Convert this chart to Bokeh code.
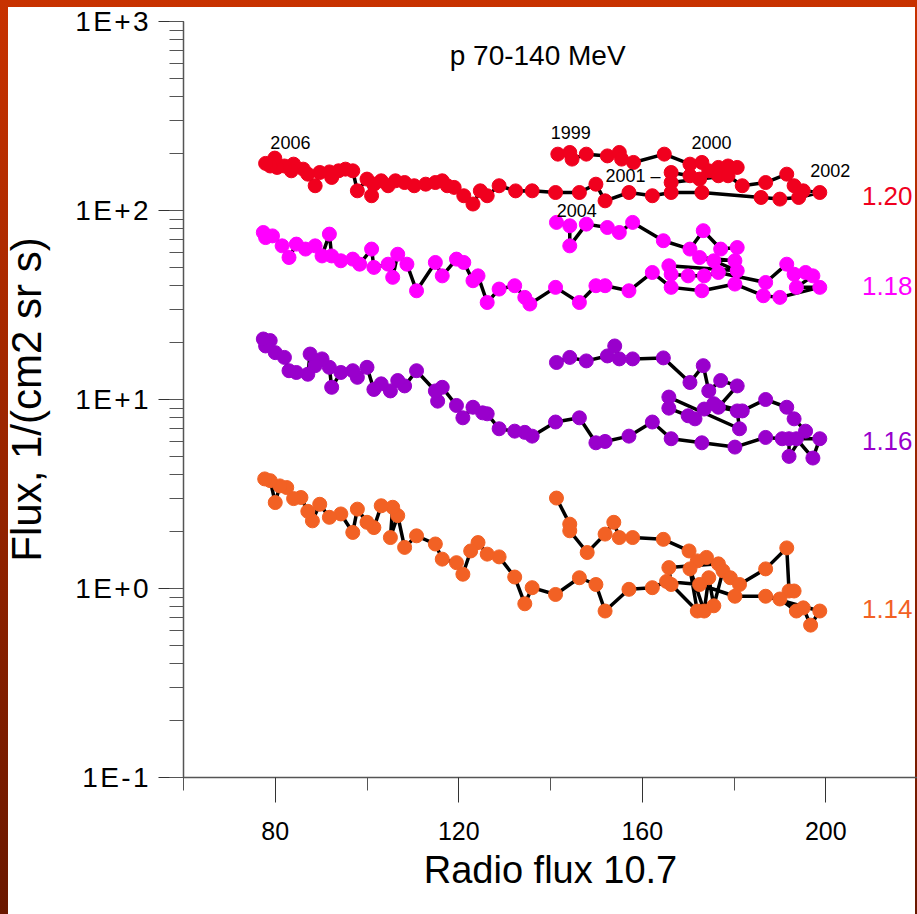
from bokeh.plotting import figure
from bokeh.models import Range1d, FixedTicker, LogTicker, CustomJSTickFormatter, Label
from bokeh.embed import file_html
from bokeh.resources import INLINE

# Radio flux F10.7 (x) and proton flux (y) for each spectral index, in time order
# 1999 -> 2000 -> 2001 -> 2002 -> ... -> 2006
x_120 = [141.6, 144.2, 144.7, 147.8, 152.4, 155.0, 155.5, 158.1, 164.8, 170.4, 173.0, 174.5, 176.6,
         178.7, 180.7, 176.6, 170.4, 166.3, 166.3, 172.5, 178.7, 181.8, 186.9, 191.5, 193.1, 195.1,
         198.7, 194.1, 190.0, 185.9, 173.0, 166.3, 162.2, 157.1, 151.9, 149.9, 146.3, 141.1, 136.0,
         132.4, 128.8, 126.2, 124.7, 123.1, 121.1, 119.0, 117.5, 116.4, 114.9, 112.8, 110.3, 108.2,
         106.2, 104.6, 103.1, 101.5, 101.0, 100.0, 97.9, 96.9, 95.3, 93.8, 92.3, 91.8, 89.7, 88.7,
         87.1, 86.1, 84.0, 83.5, 82.0, 80.4, 79.9, 78.9, 77.9]
y_120 = [198.7, 202.8, 187.0, 198.7, 194.5, 202.8, 187.0, 179.6, 198.7, 175.9, 179.6, 162.2, 169.0,
         172.0, 169.0, 152.7, 152.7, 158.9, 140.6, 146.6, 152.7, 135.2, 140.6, 155.7, 135.2, 127.1,
         124.5, 117.2, 114.9, 117.2, 124.5, 124.5, 119.7, 124.5, 112.5, 137.8, 124.5, 124.5, 127.1,
         127.0, 135.2, 119.7, 127.1, 108.2, 119.7, 132.5, 135.2, 143.6, 140.6, 137.8, 135.2, 140.6,
         143.6, 135.2, 143.6, 137.8, 119.7, 146.6, 127.1, 162.2, 165.5, 162.2, 149.6, 160.0, 158.9,
         135.2, 155.7, 165.5, 175.9, 162.2, 172.0, 169.0, 189.3, 172.0, 177.5]

x_118 = [141.3, 144.2, 144.2, 147.8, 152.4, 155.0, 157.9, 164.6, 170.4, 173.3, 177.1, 180.7, 180.2,
         172.5, 175.6, 180.7, 165.8, 166.3, 170.0, 173.5, 176.6, 186.9, 191.5, 193.1, 195.6, 197.2,
         193.6, 198.7, 190.0, 186.4, 180.2, 173.0, 166.3, 162.2, 157.1, 151.9, 149.9, 146.3, 141.1,
         135.5, 134.4, 132.2, 128.8, 126.2, 124.2, 123.1, 121.1, 119.5, 116.4, 114.9, 110.8, 108.7,
         106.7, 105.6, 104.6, 101.5, 101.0, 98.4, 96.9, 94.3, 92.3, 91.8, 90.2, 88.7, 86.6, 84.6,
         83.0, 81.5, 79.4, 77.9, 77.4]
y_118 = [86.5, 83.0, 65.0, 84.7, 81.3, 76.5, 86.5, 69.2, 62.5, 78.2, 62.5, 63.7, 54.2,
         56.4, 54.2, 48.0, 51.0, 46.0, 45.1, 45.1, 47.0, 41.6, 52.0, 46.0, 47.0, 45.1,
         39.2, 39.2, 34.7, 35.4, 40.8, 37.6, 39.2, 47.0, 37.6, 40.0, 40.0, 32.6, 39.2,
         32.0, 34.7, 40.0, 38.4, 32.6, 45.1, 42.5, 53.1, 55.3, 45.1, 53.1, 37.6, 52.0,
         58.7, 44.3, 52.0, 50.0, 62.5, 52.0, 55.3, 54.2, 57.5, 75.0, 57.5, 65.0, 62.5, 66.4,
         56.4, 65.0, 73.4, 71.9, 76.5]

x_116 = [141.3, 144.2, 147.8, 152.4, 154.0, 155.0, 157.9, 164.6, 170.4, 173.3, 174.5, 177.1, 180.7,
         176.6, 180.7, 181.2, 165.8, 165.8, 170.0, 171.5, 173.5, 175.6, 181.8, 186.9, 191.5, 193.1,
         195.6, 192.0, 192.0, 193.6, 197.2, 198.7, 190.5, 186.9, 180.2, 173.0, 166.3, 162.2, 157.1,
         151.9, 149.9, 146.3, 141.1, 136.0, 134.4, 132.2, 128.8, 126.2, 125.2, 123.1, 120.9, 119.5,
         116.4, 115.4, 114.9, 110.8, 108.2, 106.7, 105.1, 103.1, 101.5, 100.0, 97.9, 96.9, 94.3,
         92.3, 91.8, 90.2, 88.7, 87.6, 87.1, 84.6, 83.0, 82.0, 80.0, 78.9, 77.9, 77.4]
y_116 = [15.7, 16.7, 16.0, 17.0, 19.2, 16.4, 16.4, 16.6, 12.3, 15.1, 11.1, 12.6, 11.8,
         9.1, 8.7, 7.0, 10.3, 9.0, 8.2, 7.9, 8.9, 9.5, 8.7, 10.0, 9.1, 7.9,
         6.8, 5.0, 6.2, 6.2, 4.9, 6.2, 6.2, 6.3, 5.6, 5.9, 6.2, 7.6, 6.4,
         6.0, 5.9, 8.0, 7.6, 6.4, 6.7, 6.8, 7.0, 8.4, 8.5, 9.1, 8.0, 9.3,
         11.6, 9.8, 11.1, 14.2, 11.8, 12.6, 11.1, 12.1, 11.3, 14.8, 13.1, 14.2, 13.9,
         11.6, 14.8, 16.4, 15.1, 17.4, 13.6, 13.9, 14.2, 16.7, 17.7, 20.5, 19.2, 20.9]

x_114 = [141.3, 144.2, 144.2, 148.0, 151.9, 153.8, 155.0, 157.9, 164.6, 170.2, 172.0, 174.0, 176.6,
         165.8, 166.3, 172.0, 170.4, 173.5, 174.5, 175.6, 177.6, 179.2, 181.2, 186.9, 191.5, 192.0,
         193.1, 190.0, 193.6, 195.1, 196.7, 198.7, 186.9, 180.2, 172.5, 165.3, 162.2, 157.1, 151.9,
         149.9, 146.3, 141.1, 136.0, 134.4, 132.2, 128.8, 126.2, 124.2, 122.6, 120.9, 119.5, 116.4,
         114.9, 110.8, 108.2, 106.7, 105.1, 105.6, 103.1, 101.5, 100.0, 97.9, 96.9, 94.3, 91.8,
         89.7, 88.1, 87.1, 85.6, 84.0, 82.5, 81.0, 80.0, 78.9, 77.7]
y_114 = [3.01, 2.19, 2.02, 1.55, 1.94, 2.24, 1.86, 1.86, 1.82, 1.58, 1.40, 1.46, 1.35,
         1.29, 1.05, 0.76, 1.27, 0.76, 1.14, 0.81, 1.24, 1.14, 1.05, 1.27, 1.64, 0.97,
         0.97, 0.88, 0.76, 0.79, 0.64, 0.76, 0.91, 0.91, 1.05, 1.09, 1.01, 0.99, 0.76,
         1.05, 1.14, 0.93, 1.01, 0.83, 1.15, 1.47, 1.52, 1.75, 1.58, 1.19, 1.37, 1.43,
         1.72, 1.90, 1.65, 2.43, 1.86, 2.69, 2.74, 2.10, 2.24, 2.63, 1.98, 2.48, 2.38,
         2.79, 2.28, 2.56, 3.03, 2.99, 3.42, 3.49, 2.85, 3.72, 3.80]

series = [
    (x_120, y_120, "#F0001E", "1.20", 119.7),
    (x_118, y_118, "#FF00FF", "1.18", 40.0),
    (x_116, y_116, "#9900CC", "1.16", 6.05),
    (x_114, y_114, "#F26124", "1.14", 0.78),
]

# year annotations: (text, x, y, align)
year_labels = [
    ("2006", 83.3, 229.6, "center"),
    ("1999", 144.4, 259.4, "center"),
    ("2000", 175.1, 229.6, "center"),
    ("2001 \u2013", 152.0, 152.7, "left"),
    ("2002", 201.0, 162.2, "center"),
    ("2004", 145.7, 99.6, "center"),
]

FONT = "Liberation Sans"

p = figure(width=917, height=914, output_backend="svg", toolbar_location=None,
           x_range=Range1d(60, 220), y_range=Range1d(0.1, 1000), y_axis_type="log",
           min_border_left=183, min_border_right=0, min_border_top=21, min_border_bottom=137,
           border_fill_color=None, background_fill_color=None, outline_line_color=None)

# slide frame behind the transparent canvas
p.styles = {
    "background": "linear-gradient(#ffffff, #ffffff) 8px 7px / 907px 907px no-repeat, "
                  "linear-gradient(to bottom, #C83200, #6A1800)"
}

p.grid.visible = False

for xs, ys, color, name, ly in series:
    p.line(xs, ys, line_color="black", line_width=3.5)
    p.scatter(xs, ys, marker="circle", size=14, fill_color=color, line_color=color)
    p.add_layout(Label(x=213.4, y=ly, text=name, text_color=color, text_font=FONT,
                       text_font_size="26px", text_align="center", text_baseline="middle"))

for txt, lx, ly, al in year_labels:
    p.add_layout(Label(x=lx, y=ly, text=txt, text_color="black", text_font=FONT,
                       text_font_size="18px", text_align=al, text_baseline="middle"))

p.add_layout(Label(x=137.2, y=657.6, text="p 70-140 MeV", text_color="black", text_font=FONT,
                   text_font_size="28px", text_align="center", text_baseline="middle"))

# axes
yax = p.yaxis[0]
yax.ticker = LogTicker(num_minor_ticks=10)
yax.formatter = CustomJSTickFormatter(code="""
    const e = Math.round(Math.log10(tick));
    const hs = '\\u200a';
    return ['1', 'E', e >= 0 ? '+' : '-', String(Math.abs(e))].join(hs);
""")
yax.axis_label = "Flux, 1/(cm2 sr s)"
yax.axis_label_text_font = FONT
yax.axis_label_text_font_size = "42px"
yax.axis_label_text_font_style = "normal"
yax.axis_label_standoff = 22
yax.major_label_text_font = FONT
yax.major_label_text_font_size = "28px"
yax.major_label_standoff = 10

xax = p.xaxis[0]
xax.ticker = FixedTicker(ticks=[80, 120, 160, 200], minor_ticks=[60, 100, 140, 180, 220])
xax.axis_label = "Radio flux 10.7"
xax.axis_label_text_font = FONT
xax.axis_label_text_font_size = "38px"
xax.axis_label_text_font_style = "normal"
xax.axis_label_standoff = 6
xax.major_label_text_font = FONT
xax.major_label_text_font_size = "25px"
xax.major_label_standoff = 19

for ax in (xax, yax):
    ax.axis_line_color = "#555555"
    ax.axis_line_width = 1.5
    ax.major_tick_line_color = "#333333"
    ax.minor_tick_line_color = "#555555"
    ax.major_tick_in = 0
    ax.minor_tick_in = 0
    ax.major_tick_out = 25
    ax.major_label_text_color = "black"
    ax.axis_label_text_color = "black"
yax.minor_tick_out = 14
xax.minor_tick_out = 13

open("out.html", "w").write(file_html(p, INLINE))
